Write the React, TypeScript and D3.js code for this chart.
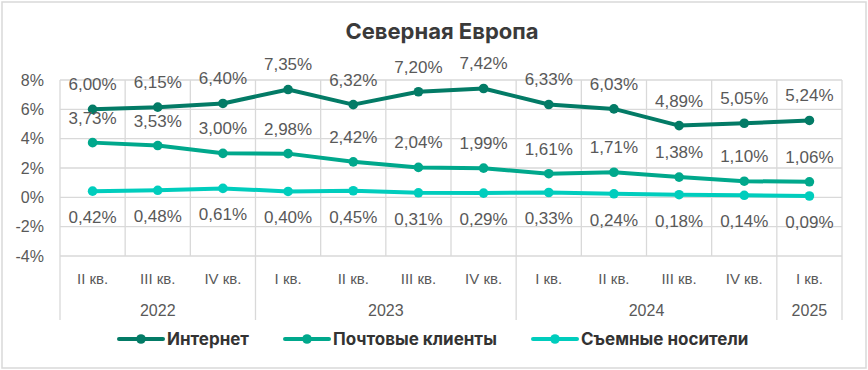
import React from 'react';
import * as d3 from 'd3';

// quarters and their years
const quarters = ['II кв.', 'III кв.', 'IV кв.', 'I кв.', 'II кв.', 'III кв.', 'IV кв.', 'I кв.', 'II кв.', 'III кв.', 'IV кв.', 'I кв.'];
const years = [
	{ year: '2022', from: 0, to: 3 },
	{ year: '2023', from: 3, to: 7 },
	{ year: '2024', from: 7, to: 11 },
	{ year: '2025', from: 11, to: 12 },
];
const yTicks = [-4, -2, 0, 2, 4, 6, 8];

const internet = [6.0, 6.15, 6.4, 7.35, 6.32, 7.2, 7.42, 6.33, 6.03, 4.89, 5.05, 5.24];
const mail = [3.73, 3.53, 3.0, 2.98, 2.42, 2.04, 1.99, 1.61, 1.71, 1.38, 1.1, 1.06];
const removable = [0.42, 0.48, 0.61, 0.4, 0.45, 0.31, 0.29, 0.33, 0.24, 0.18, 0.14, 0.09];

const series = [
	{ name: 'Интернет', values: internet, colour: '#037b66', above: true },
	{ name: 'Почтовые клиенты', values: mail, colour: '#00a88c', above: true },
	{ name: 'Съемные носители', values: removable, colour: '#00cdbd', above: false },
];

const W = 868,
	H = 370,
	left = 60,
	right = 842,
	top = 80,
	bottom = 256,
	labelFont = '"Liberation Sans", Arial, sans-serif',
	boldFont = 'Inter, "Noto Sans", sans-serif';

const App = () => {
	const x = d3.scaleBand<number>().domain(d3.range(quarters.length)).range([left, right]).padding(0);
	const y = d3.scaleLinear().domain([-4, 8]).range([bottom, top]);
	const cx = (i: number) => (x(i) as number) + x.bandwidth() / 2;
	const line = d3
		.line<number>()
		.x((d, i) => cx(i))
		.y((d) => y(d));
	const fmt = (v: number) => d3.format('.2f')(v).replace('.', ',') + '%';
	const edge = (i: number) => left + i * x.bandwidth();

	const legendX = [119, 285, 533];

	return (
		<div style={{ position: 'fixed', left: 0, top: 0 }}>
			<svg width={W} height={H} style={{ display: 'block', background: '#fff' }}>
				<rect x={2} y={2} width={W - 4} height={H - 4} fill="#fff" stroke="#d9d9d9" strokeWidth={1.5} />
				<text x={442} y={39} textAnchor="middle" fontFamily={boldFont} fontWeight={700} fontSize={22} fill="#3a3a3a">
					Северная Европа
				</text>

				{/* horizontal grid */}
				{yTicks.map((t) => (
					<g key={t}>
						<line x1={left} x2={right} y1={y(t)} y2={y(t)} stroke="#d9d9d9" strokeWidth={1.3} />
						<text x={44} y={y(t)} dy="0.35em" textAnchor="end" fontFamily={labelFont} fontSize={16} fill="#595959">
							{t}%
						</text>
					</g>
				))}
				{/* vertical grid */}
				{d3.range(quarters.length + 1).map((i) => (
					<line key={i} x1={edge(i)} x2={edge(i)} y1={top} y2={bottom} stroke="#d9d9d9" strokeWidth={1.3} />
				))}
				{/* year separators in axis area */}
				{[0, 3, 7, 11, 12].map((i) => (
					<line key={'s' + i} x1={edge(i)} x2={edge(i)} y1={bottom} y2={320} stroke="#d9d9d9" strokeWidth={1.3} />
				))}
				{quarters.map((q, i) => (
					<text key={'q' + i} x={cx(i)} y={279} dy="0.35em" textAnchor="middle" fontFamily={labelFont} fontSize={15} fill="#595959">
						{q}
					</text>
				))}
				{years.map((g) => (
					<text key={g.year} x={(edge(g.from) + edge(g.to)) / 2} y={310} dy="0.35em" textAnchor="middle" fontFamily={labelFont} fontSize={16} fill="#595959">
						{g.year}
					</text>
				))}

				{series.map((s) => (
					<g key={s.name}>
						<path d={line(s.values) as string} fill="none" stroke={s.colour} strokeWidth={4} strokeLinejoin="round" strokeLinecap="round" />
						{s.values.map((v, i) => (
							<circle key={i} cx={cx(i)} cy={y(v)} r={4.8} fill={s.colour} />
						))}
						{s.values.map((v, i) => (
							<text
								key={'l' + i}
								x={cx(i)}
								y={y(v) + (s.above ? -25 : 26)}
								dy="0.35em"
								textAnchor="middle"
								fontFamily={labelFont}
								fontSize={17}
								fill="#595959"
							>
								{fmt(v)}
							</text>
						))}
					</g>
				))}

				{series.map((s, k) => (
					<g key={'lg' + k} transform={`translate(${legendX[k]},339)`}>
						<line x1={0} x2={44} y1={0} y2={0} stroke={s.colour} strokeWidth={4} strokeLinecap="round" />
						<circle cx={22} cy={0} r={4.8} fill={s.colour} />
						<text x={48} y={0} dy="0.35em" fontFamily={boldFont} fontWeight={700} fontSize={17} fill="#333">
							{s.name}
						</text>
					</g>
				))}
			</svg>
		</div>
	);
};

export default App;
